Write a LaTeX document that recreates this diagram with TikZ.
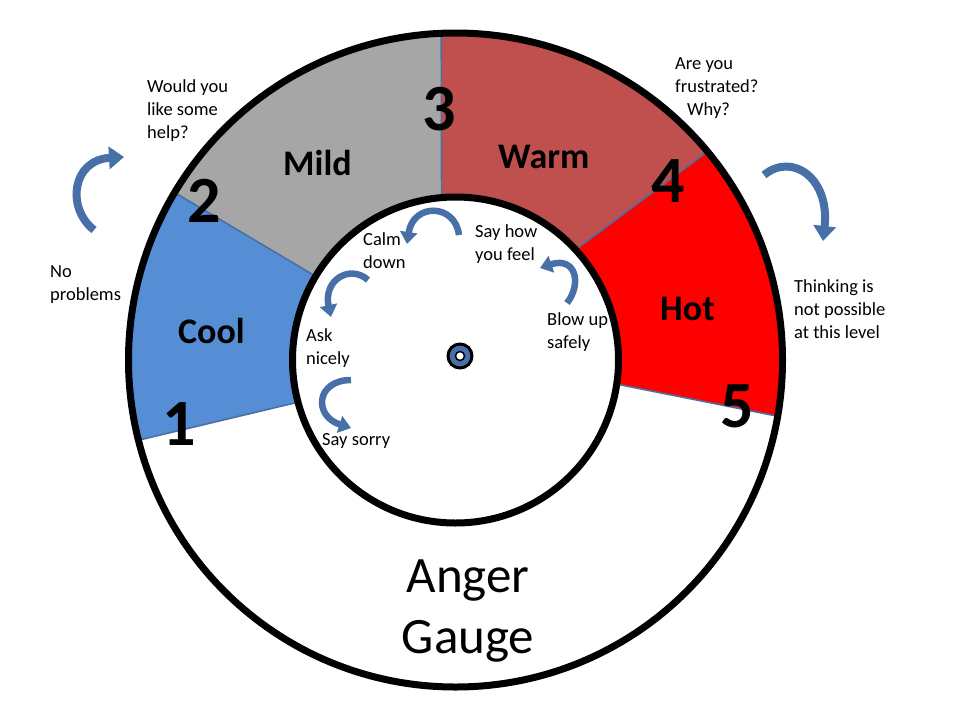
\documentclass[tikz,border=0pt]{standalone}
\usepackage{fontspec}
\setmainfont{Carlito}
\usetikzlibrary{calc,arrows.meta}
\definecolor{coolc}{RGB}{85,142,213}
\definecolor{mildc}{RGB}{166,166,166}
\definecolor{warmc}{RGB}{192,80,77}
\definecolor{hotc}{RGB}{255,0,0}
\definecolor{edgec}{RGB}{74,111,165}
\definecolor{arrc}{RGB}{72,112,168}
\tikzset{
  small/.style={font=\fontsize{18.5}{23}\selectfont, inner sep=0pt, anchor=base west, align=left},
  zone/.style={font=\fontsize{36}{40}\selectfont\bfseries, inner sep=0pt, anchor=base west},
  num/.style={font=\fontsize{66}{70}\selectfont\bfseries, inner sep=0pt, anchor=base west},
  title/.style={font=\fontsize{51}{61}\selectfont, inner sep=0pt, anchor=base},
  edge/.style={draw=edgec, line width=1.6pt},
  ring/.style={draw=black, line width=7pt},
  bigarrow/.style={draw=arrc, line width=8pt, -{Triangle[width=22pt,length=15pt]}},
  smallarrow/.style={draw=arrc, line width=6.5pt, -{Triangle[width=17pt,length=12pt]}},
}
\newcommand{\zonefill}[5]{%
  \fill[#1] ($(O)+(#2:327pt)$) arc[start angle=#2, end angle=#3, radius=327pt]
    -- ($(O)+(#4:163pt)$) arc[start angle=#4, end angle=#5, radius=163pt] -- cycle;}
\begin{document}
\begin{tikzpicture}[x=1pt,y=-1pt]
\useasboundingbox (0,0) rectangle (960,720);
\fill[white] (0,0) rectangle (960,720);
\coordinate (O) at (455.5,360);
% zones
\zonefill{coolc}{194.2}{149.2}{149.1}{195}
\zonefill{mildc}{149.2}{92.5}{94.9}{149.1}
\zonefill{warmc}{92.5}{39.6}{42.6}{94.9}
\zonefill{hotc}{39.6}{-9.9}{-8.5}{42.6}
% boundary lines
\draw[edge] ($(O)+(195:163pt)$) -- ($(O)+(194.2:327pt)$);
\draw[edge] ($(O)+(149.1:163pt)$) -- ($(O)+(149.2:327pt)$);
\draw[edge] ($(O)+(94.9:163pt)$) -- ($(O)+(92.5:327pt)$);
\draw[edge] ($(O)+(42.6:163pt)$) -- ($(O)+(39.6:327pt)$);
\draw[edge] ($(O)+(-8.5:163pt)$) -- ($(O)+(-9.9:327pt)$);
% rings
\draw[ring] (O) circle[radius=327pt];
\draw[ring, fill=white] (O) circle[radius=163pt];
% centre pin
\node[circle, draw=black, line width=3pt, fill=arrc, minimum size=24pt, inner sep=0pt] (pin) at (460,356) {};
\node[circle, draw=black, line width=1.5pt, fill=white, minimum size=9pt, inner sep=0pt] (pinc) at (pin) {};
% zone labels
\node[zone] (cool) at (178,343) {Cool};
\node[zone] (mild) at (283,175) {Mild};
\node[zone] (warm) at (498,168) {Warm};
\node[zone] (hot) at (660,320) {Hot};
% numbers
\node[num] (n1) at (162,445) {1};
\node[num] (n2) at (187,222) {2};
\node[num] (n3) at (422,130) {3};
\node[num] (n4) at (651,202) {4};
\node[num] (n5) at (720,427) {5};
% title
\node[title] (anger) at (468,592) {Anger};
\node[title] (gauge) at (468,653) {Gauge};
% outside texts (anchor at last line baseline)
\node[small] (help) at (147,138) {Would you\\like some\\help?};
\node[small] (noprob) at (50,300) {No\\problems};
\node[small] (frus) at (675,115) {Are you\\frustrated?\\\hspace*{12pt}Why?};
\node[small] (think) at (794,338) {Thinking is\\not possible\\at this level};
% inner texts
\node[small] (calm) at (363,268) {Calm\\down};
\node[small] (sayhow) at (475,260) {Say how\\you feel};
\node[small] (ask) at (306,364) {Ask\\nicely};
\node[small] (blow) at (547,348) {Blow up\\safely};
\node[small] (sorry) at (322,445) {Say sorry};
% outside arrows
\coordinate (a1s) at (94,230); \coordinate (a1e) at (124,157);
\draw[bigarrow] (a1s) .. controls (66,208) and (72,160) .. (a1e);
\coordinate (a2s) at (764,175); \coordinate (a2e) at (823,241);
\draw[bigarrow] (a2s) .. controls (792,152) and (830,178) .. (a2e);
% inner arrows
\coordinate (a3s) at (459,235); \coordinate (a3e) at (407,244);
\draw[smallarrow] (a3s) .. controls (455,203) and (413,203) .. (a3e);
\coordinate (a4s) at (368,280); \coordinate (a4e) at (331,317);
\draw[smallarrow] (a4s) .. controls (350,264) and (323,280) .. (a4e);
\coordinate (a5s) at (351,380); \coordinate (a5e) at (351,428);
\draw[smallarrow] (a5s) .. controls (316,380) and (313,416) .. (a5e);
\coordinate (a6s) at (567,303); \coordinate (a6e) at (540,268);
\draw[smallarrow] (a6s) .. controls (582,284) and (576,256) .. (a6e);
\end{tikzpicture}
\end{document}
